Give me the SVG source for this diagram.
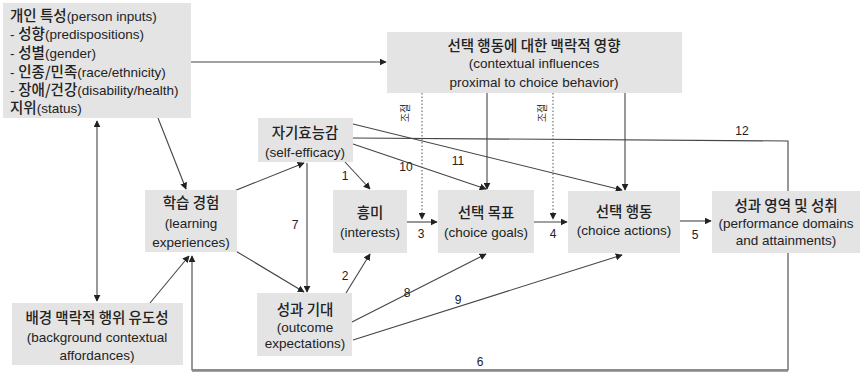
<svg xmlns="http://www.w3.org/2000/svg" width="861" height="375" viewBox="0 0 861 375">
<defs>
<marker id="ah" viewBox="0 0 10 10" refX="9" refY="5" markerWidth="7" markerHeight="7" markerUnits="userSpaceOnUse" orient="auto-start-reverse">
<path d="M0,0 L10,5 L0,10 z" fill="#222"/>
</marker>
<style>
.box{fill:#e4e4e4;}
.t{font-family:"Liberation Sans","Noto Sans CJK KR",sans-serif;font-size:13.5px;fill:#222;}
.c{text-anchor:middle;}
.h{font-family:"Noto Sans CJK KR",sans-serif;font-size:14.5px;font-weight:500;}
.n{font-family:"Liberation Sans",sans-serif;font-size:12px;fill:#222;text-anchor:middle;}
.s{font-family:"Noto Sans CJK KR",sans-serif;font-size:10px;fill:#333;text-anchor:middle;}
.ln{fill:none;stroke:#444;stroke-width:1.1;}
.dt{fill:none;stroke:#555;stroke-width:1;stroke-dasharray:1.5,2;}
</style>
</defs>
<rect x="0" y="0" width="861" height="375" fill="#fff"/>

<g id="connectors">
<line class="ln" x1="191" y1="62" x2="386" y2="62" marker-end="url(#ah)"/>
<line class="ln" x1="158" y1="118" x2="186" y2="189" marker-end="url(#ah)"/>
<line class="ln" x1="97" y1="121" x2="97" y2="301" marker-start="url(#ah)" marker-end="url(#ah)"/>
<line class="ln" x1="234" y1="191" x2="304" y2="163" marker-end="url(#ah)"/>
<line class="ln" x1="234" y1="250" x2="304" y2="292" marker-end="url(#ah)"/>
<line class="ln" x1="307" y1="163" x2="307" y2="292" marker-end="url(#ah)"/>
<line class="ln" x1="345" y1="162" x2="370" y2="189" marker-end="url(#ah)"/>
<line class="ln" x1="346" y1="293" x2="370" y2="254" marker-end="url(#ah)"/>
<line class="ln" x1="407" y1="222" x2="437" y2="222" marker-end="url(#ah)"/>
<line class="ln" x1="534" y1="222" x2="567" y2="222" marker-end="url(#ah)"/>
<line class="ln" x1="680" y1="221" x2="711" y2="221" marker-end="url(#ah)"/>
<line class="ln" x1="353" y1="144" x2="486" y2="189" marker-end="url(#ah)"/>
<line class="ln" x1="353" y1="124" x2="622" y2="190" marker-end="url(#ah)"/>
<polyline class="ln" points="353,138 788,141 788,191"/>
<line class="ln" x1="487" y1="93" x2="487" y2="189" marker-end="url(#ah)"/>
<line class="ln" x1="625" y1="93" x2="625" y2="190" marker-end="url(#ah)"/>
<line class="dt" x1="422" y1="93" x2="422" y2="219" marker-end="url(#ah)"/>
<line class="dt" x1="553" y1="93" x2="553" y2="219" marker-end="url(#ah)"/>
<line class="ln" x1="352" y1="322" x2="486" y2="254" marker-end="url(#ah)"/>
<line class="ln" x1="353" y1="340" x2="622" y2="255" marker-end="url(#ah)"/>
<polyline class="ln" points="788,253 788,370 192,370 192,256" marker-end="url(#ah)"/>
<line x1="192" y1="370.5" x2="788" y2="370.5" stroke="#888" stroke-width="2.5"/>
<line class="ln" x1="150" y1="303" x2="189" y2="256" marker-end="url(#ah)"/>
<text class="n" x="345" y="180">1</text>
<text class="n" x="345" y="280">2</text>
<text class="n" x="421" y="238">3</text>
<text class="n" x="553" y="238">4</text>
<text class="n" x="695" y="239">5</text>
<text class="n" x="480" y="366">6</text>
<text class="n" x="295" y="229">7</text>
<text class="n" x="407" y="297">8</text>
<text class="n" x="458" y="304">9</text>
<text class="n" x="406" y="171">10</text>
<text class="n" x="458" y="165">11</text>
<text class="n" x="742" y="135">12</text>
<text class="s" transform="translate(409,113) rotate(-90)">조절</text>
<text class="s" transform="translate(546,113) rotate(-90)">조절</text>
</g>

<g id="person-inputs">
<rect class="box" x="3" y="3" width="188" height="115"/>
<text class="t" x="10" y="21"><tspan class="h">개인 특성</tspan>(person inputs)</text>
<text class="t" x="10" y="39">- <tspan class="h">성향</tspan>(predispositions)</text>
<text class="t" x="10" y="58">- <tspan class="h">성별</tspan>(gender)</text>
<text class="t" x="10" y="77">- <tspan class="h">인종/민족</tspan>(race/ethnicity)</text>
<text class="t" x="10" y="95">- <tspan class="h">장애/건강</tspan>(disability/health)</text>
<text class="t" x="10" y="113"><tspan class="h">지위</tspan>(status)</text>
</g>

<g id="contextual-influences">
<rect class="box" x="387" y="32" width="295" height="61"/>
<text class="t c h" x="534" y="51">선택 행동에 대한 맥락적 영향</text>
<text class="t c" x="534" y="68">(contextual influences</text>
<text class="t c" x="534" y="87">proximal to choice behavior)</text>
</g>

<g id="self-efficacy">
<rect class="box" x="258" y="118" width="95" height="44"/>
<text class="t c h" x="305" y="138">자기효능감</text>
<text class="t c" x="305" y="157">(self-efficacy)</text>
</g>

<g id="learning-experiences">
<rect class="box" x="145" y="190" width="92" height="62"/>
<text class="t c h" x="191" y="208">학습 경험</text>
<text class="t c" x="191" y="228">(learning</text>
<text class="t c" x="191" y="247">experiences)</text>
</g>

<g id="interests">
<rect class="box" x="333" y="190" width="74" height="63"/>
<text class="t c h" x="370" y="218">흥미</text>
<text class="t c" x="370" y="237">(interests)</text>
</g>

<g id="choice-goals">
<rect class="box" x="438" y="190" width="96" height="63"/>
<text class="t c h" x="486" y="218">선택 목표</text>
<text class="t c" x="486" y="237">(choice goals)</text>
</g>

<g id="choice-actions">
<rect class="box" x="568" y="191" width="112" height="62"/>
<text class="t c h" x="624" y="217">선택 행동</text>
<text class="t c" x="624" y="235">(choice actions)</text>
</g>

<g id="performance">
<rect class="box" x="712" y="191" width="148" height="62"/>
<text class="t c h" x="786" y="211">성과 영역 및 성취</text>
<text class="t c" x="786" y="228">(performance domains</text>
<text class="t c" x="786" y="245">and attainments)</text>
</g>

<g id="background-affordances">
<rect class="box" x="12" y="303" width="171" height="62"/>
<text class="t c h" x="97" y="323">배경 맥락적 행위 유도성</text>
<text class="t c" x="97" y="342">(background contextual</text>
<text class="t c" x="97" y="360">affordances)</text>
</g>

<g id="outcome-expectations">
<rect class="box" x="257" y="293" width="95" height="63"/>
<text class="t c h" x="305" y="315">성과 기대</text>
<text class="t c" x="305" y="332">(outcome</text>
<text class="t c" x="305" y="348">expectations)</text>
</g>
</svg>
